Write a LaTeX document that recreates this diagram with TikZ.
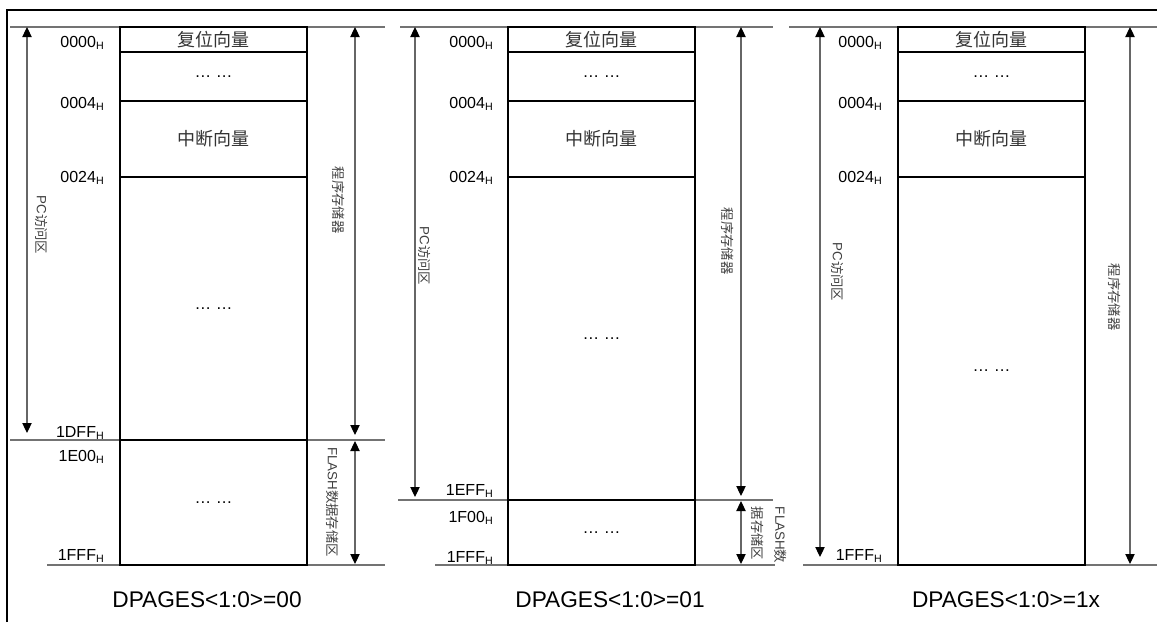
\documentclass[tikz,border=0pt]{standalone}
\usepackage{fontspec}
\setmainfont{Liberation Sans}
\newfontfamily\cjk{Noto Sans CJK SC}
\usetikzlibrary{arrows.meta,fit}
\newcommand\hsub{\raisebox{-0.35ex}{\fontsize{8}{8}\selectfont H}}
\begin{document}
\begin{tikzpicture}[x=0.75pt,y=-0.75pt,
  region/.style={draw=black, line width=1.1pt, inner sep=0pt},
  guide/.style={draw=black!55, line width=0.8pt},
  rangearrow/.style={draw=black!60, line width=0.8pt,
    {Triangle[length=7.5pt,width=7pt,color=black]}-{Triangle[length=7.5pt,width=7pt,color=black]}},
  addr/.style={anchor=base east, font=\fontsize{12}{14}\selectfont, inner sep=0pt},
  vlab/.style={rotate=-90, text=black!75, inner sep=0pt, font=\cjk\fontsize{10}{12}\selectfont},
  caption/.style={font=\fontsize{17}{20}\selectfont, inner sep=0pt},
  dots/.style={font=\fontsize{12.5}{14}\selectfont},
  cn/.style={font=\cjk\fontsize{13.5}{15}\selectfont, text=black!80}]
\useasboundingbox (0,0) rectangle (1157,622);
% frame
\coordinate (fa) at (7,622); \coordinate (fb) at (7,10); \coordinate (fc) at (1157,10);
\draw[line width=1.5pt] (fa) -- (fb) -- (fc);

% ================= panel 1 =================
\coordinate (g1a) at (10,27);  \coordinate (g1b) at (385,27);
\coordinate (g1c) at (10,440); \coordinate (g1d) at (385,440);
\coordinate (g1e) at (47,565); \coordinate (g1f) at (385,565);
\draw[guide] (g1a) -- (g1b);
\draw[guide] (g1c) -- (g1d);
\draw[guide] (g1e) -- (g1f);
\node[region, fit={(120,27)(307,52)}, label={[cn]center:复位向量}] (p1r0) {};
\node[region, fit={(120,52)(307,101)}, label={[dots]center:…\ …}] (p1r1) {};
\node[region, fit={(120,101)(307,177)}, label={[cn]center:中断向量}] (p1r2) {};
\node[region, fit={(120,177)(307,440)}, label={[dots]center:…\ …}] (p1r3) {};
\node[region, fit={(120,440)(307,565)}, label={[dots]center:…\ …}] (p1r4) {};
\node[addr] (p1a0) at (104,47) {0000\hsub};
\node[addr] (p1a1) at (104,108) {0004\hsub};
\node[addr] (p1a2) at (104,182) {0024\hsub};
\node[addr] (p1a3) at (104,437) {1DFF\hsub};
\node[addr] (p1a4) at (104,461) {1E00\hsub};
\node[addr] (p1a5) at (104,560) {1FFF\hsub};
\coordinate (p1la) at (27,27);  \coordinate (p1lb) at (27,433);
\coordinate (p1ra) at (355,27); \coordinate (p1rb) at (355,435);
\coordinate (p1fa) at (355,441); \coordinate (p1fb) at (355,564);
\draw[rangearrow] (p1la) -- (p1lb);
\draw[rangearrow] (p1ra) -- (p1rb);
\draw[rangearrow] (p1fa) -- (p1fb);
\node[vlab] (p1pc) at (42,225) {\fontspec{Liberation Sans}PC\cjk 访问区};
\node[vlab] (p1pm) at (339,200) {程序存储器};
\node[vlab, font=\fontsize{10}{12}\selectfont] (p1fl) at (333,502) {FLASH\cjk 数据存储区};
\node[caption] (p1cap) at (207,600) {DPAGES<1:0>=00};

% ================= panel 2 =================
\coordinate (g2a) at (400,27);  \coordinate (g2b) at (773,27);
\coordinate (g2c) at (398,500); \coordinate (g2d) at (773,500);
\coordinate (g2e) at (435,565); \coordinate (g2f) at (775,565);
\draw[guide] (g2a) -- (g2b);
\draw[guide] (g2c) -- (g2d);
\draw[guide] (g2e) -- (g2f);
\node[region, fit={(508,27)(695,52)}, label={[cn]center:复位向量}] (p2r0) {};
\node[region, fit={(508,52)(695,101)}, label={[dots]center:…\ …}] (p2r1) {};
\node[region, fit={(508,101)(695,177)}, label={[cn]center:中断向量}] (p2r2) {};
\node[region, fit={(508,177)(695,500)}, label={[dots]center:…\ …}] (p2r3) {};
\node[region, fit={(508,500)(695,565)}, label={[dots]center:…\ …}] (p2r4) {};
\node[addr] (p2a0) at (493,47) {0000\hsub};
\node[addr] (p2a1) at (493,108) {0004\hsub};
\node[addr] (p2a2) at (493,182) {0024\hsub};
\node[addr] (p2a3) at (493,495) {1EFF\hsub};
\node[addr] (p2a4) at (493,522) {1F00\hsub};
\node[addr] (p2a5) at (493,562) {1FFF\hsub};
\coordinate (p2la) at (415,27);  \coordinate (p2lb) at (415,497);
\coordinate (p2ra) at (741,27);  \coordinate (p2rb) at (741,496);
\coordinate (p2fa) at (741,501); \coordinate (p2fb) at (741,564);
\draw[rangearrow] (p2la) -- (p2lb);
\draw[rangearrow] (p2ra) -- (p2rb);
\draw[rangearrow] (p2fa) -- (p2fb);
\node[vlab] (p2pc) at (425,256) {\fontspec{Liberation Sans}PC\cjk 访问区};
\node[vlab] (p2pm) at (728,241) {程序存储器};
\node[vlab, font=\fontsize{10}{17}\selectfont, align=left] (p2fl) at (769,535)
  {FLASH\cjk 数\\\cjk 据存储区};
\node[caption] (p2cap) at (610,600) {DPAGES<1:0>=01};

% ================= panel 3 =================
\coordinate (g3a) at (789,27);  \coordinate (g3b) at (1157,27);
\coordinate (g3e) at (803,565); \coordinate (g3f) at (1157,565);
\draw[guide] (g3a) -- (g3b);
\draw[guide] (g3e) -- (g3f);
\node[region, fit={(898,27)(1085,52)}, label={[cn]center:复位向量}] (p3r0) {};
\node[region, fit={(898,52)(1085,101)}, label={[dots]center:…\ …}] (p3r1) {};
\node[region, fit={(898,101)(1085,177)}, label={[cn]center:中断向量}] (p3r2) {};
\node[region, fit={(898,177)(1085,565)}, label={[dots]center:…\ …}] (p3r3) {};
\node[addr] (p3a0) at (882,47) {0000\hsub};
\node[addr] (p3a1) at (882,108) {0004\hsub};
\node[addr] (p3a2) at (882,182) {0024\hsub};
\node[addr] (p3a5) at (882,560) {1FFF\hsub};
\coordinate (p3la) at (820,27);  \coordinate (p3lb) at (820,557);
\coordinate (p3ra) at (1130,27); \coordinate (p3rb) at (1130,564);
\draw[rangearrow] (p3la) -- (p3lb);
\draw[rangearrow] (p3ra) -- (p3rb);
\node[vlab] (p3pc) at (838,272) {\fontspec{Liberation Sans}PC\cjk 访问区};
\node[vlab] (p3pm) at (1115,297) {程序存储器};
\node[caption] (p3cap) at (1006,600) {DPAGES<1:0>=1x};
\end{tikzpicture}
\end{document}
